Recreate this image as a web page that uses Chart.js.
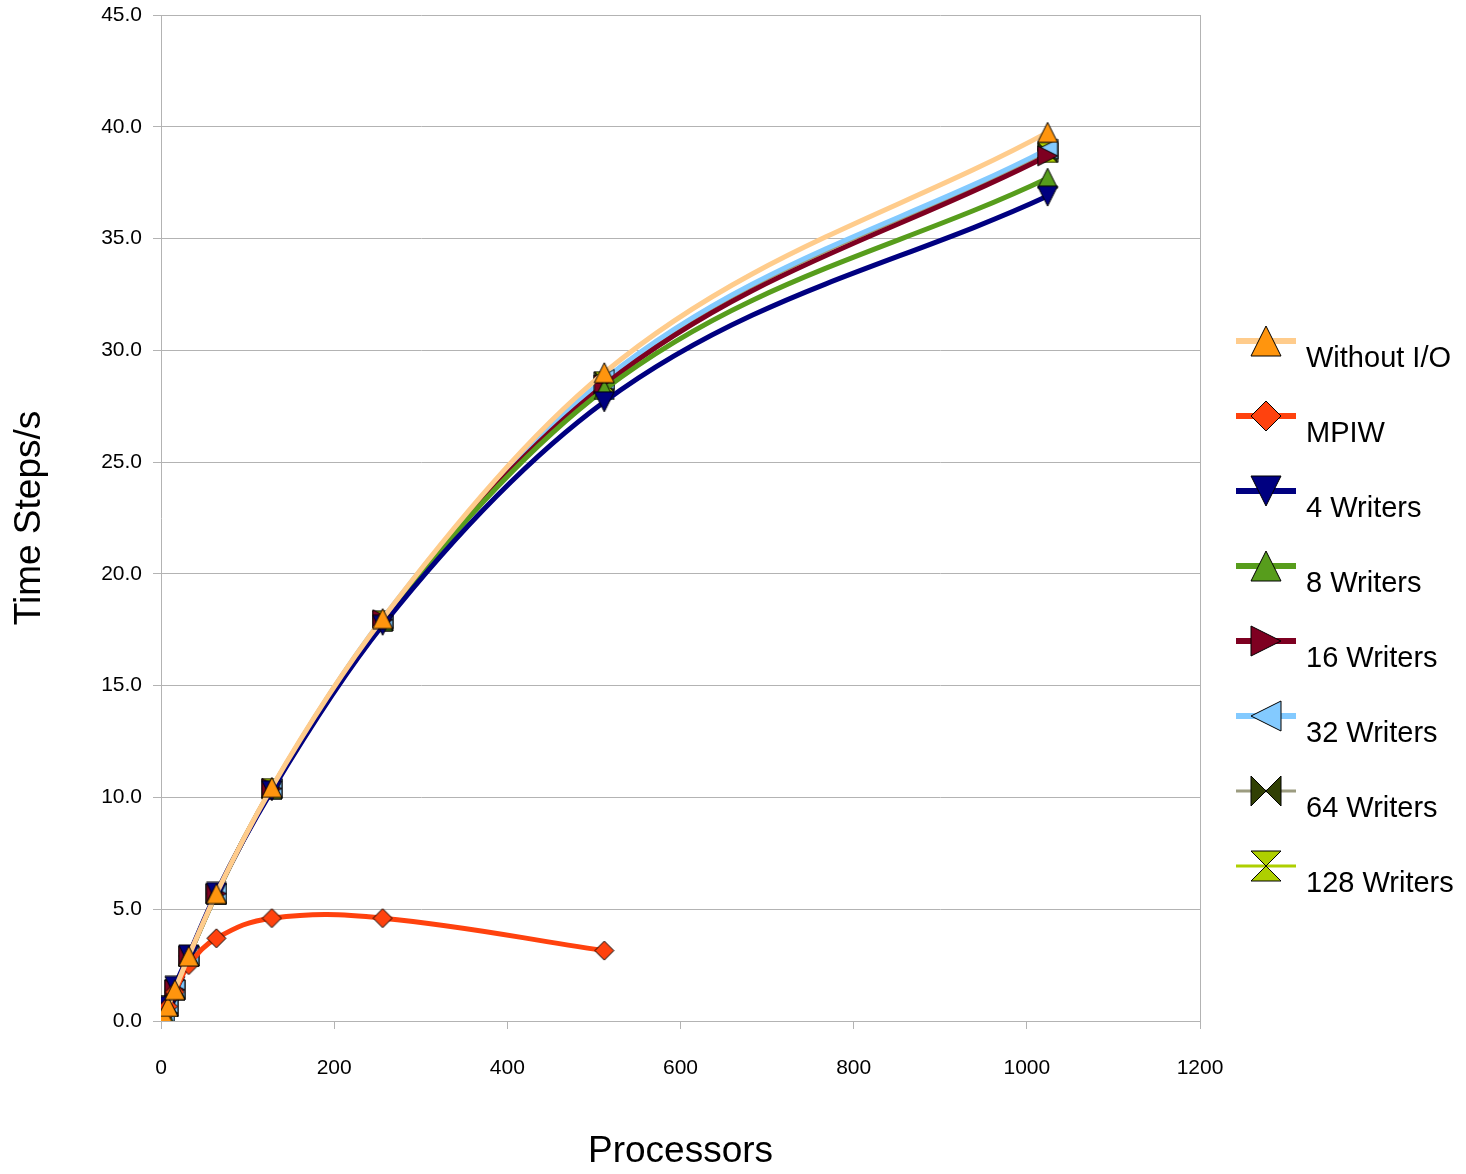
<!DOCTYPE html>
<html>
<head>
<meta charset="utf-8">
<title>Time Steps/s vs Processors</title>
<script src="https://cdn.jsdelivr.net/npm/chart.js@4.4.0/dist/chart.umd.min.js"></script>
<style>
  html, body { margin: 0; padding: 0; background: #fff; }
  #wrap { width: 1466px; height: 1174px; }
</style>
</head>
<body>
<div id="wrap"><canvas id="chart" width="1466" height="1174"></canvas></div>
<script>
// processors used in each run
const procs = [4, 8, 16, 32, 64, 128, 256, 512, 1024];

// time steps per second
const withoutIO  = [0.2, 0.65, 1.4, 2.9, 5.7, 10.45, 18.0, 29.0, 39.75];
const mpiw       = [0.3, 0.65, 1.3, 2.5, 3.7, 4.6, 4.6, 3.15];
const writers4   = [0.3, 0.65, 1.55, 2.95, 5.75, 10.3, 17.7, 27.7, 36.9];
const writers8   = [0.3, 0.65, 1.45, 2.9, 5.7, 10.4, 17.9, 28.25, 37.7];
const writers16  = [0.3, 0.35, 1.4, 2.9, 5.7, 10.4, 17.95, 28.45, 38.7];
const writers32  = [0.3, 0.65, 1.4, 2.9, 5.7, 10.4, 18.0, 28.7, 39.0];
const writers64  = [0.3, 0.65, 1.4, 2.9, 5.7, 10.4, 17.9, 28.6, 38.85];
const writers128 = [0.3, 0.65, 1.4, 2.9, 5.7, 10.4, 17.9, 28.6, 38.85];

const xTicks = [0, 200, 400, 600, 800, 1000, 1200];
const yMax = 45;

const FONT = "'Liberation Sans', Arial, sans-serif";

// little canvases used as point markers
function makeMarker(shape, s, fill) {
  const c = document.createElement('canvas');
  c.width = s + 2;
  c.height = s + 2;
  const g = c.getContext('2d');
  g.translate(1, 1);
  g.fillStyle = fill;
  g.strokeStyle = '#000';
  g.lineWidth = 1;
  g.lineJoin = 'miter';
  const h = s / 2;
  let polys;
  if (shape == 'up') polys = [[[0, s], [h, 0], [s, s]]];
  else if (shape == 'down') polys = [[[0, 0], [s, 0], [h, s]]];
  else if (shape == 'right') polys = [[[0, 0], [s, h], [0, s]]];
  else if (shape == 'left') polys = [[[s, 0], [0, h], [s, s]]];
  else if (shape == 'diamond') polys = [[[h, 0], [s, h], [h, s], [0, h]]];
  else if (shape == 'bowtie') polys = [[[0, 0], [h, h], [0, s]], [[s, 0], [h, h], [s, s]]];
  else polys = [[[0, 0], [s, 0], [h, h]], [[0, s], [s, s], [h, h]]];
  polys.forEach(p => {
    g.beginPath();
    g.moveTo(p[0][0], p[0][1]);
    for (let i = 1; i < p.length; i++) g.lineTo(p[i][0], p[i][1]);
    g.closePath();
    g.fill();
    g.stroke();
  });
  return c;
}

function toPoints(values) {
  return values.map((v, i) => ({ x: procs[i], y: v }));
}

const seriesInfo = [
  { label: 'Without I/O', data: withoutIO,  line: '#ffcc8c', fill: '#ff950e', shape: 'up',      width: 5 },
  { label: 'MPIW',        data: mpiw,       line: '#ff420e', fill: '#ff420e', shape: 'diamond', width: 5 },
  { label: '4 Writers',   data: writers4,   line: '#000080', fill: '#000080', shape: 'down',    width: 5 },
  { label: '8 Writers',   data: writers8,   line: '#579d1c', fill: '#579d1c', shape: 'up',      width: 5 },
  { label: '16 Writers',  data: writers16,  line: '#7e0021', fill: '#7e0021', shape: 'right',   width: 5 },
  { label: '32 Writers',  data: writers32,  line: '#83caff', fill: '#83caff', shape: 'left',    width: 5 },
  { label: '64 Writers',  data: writers64,  line: '#9c9c80', fill: '#314004', shape: 'bowtie',  width: 2 },
  { label: '128 Writers', data: writers128, line: '#aecf00', fill: '#aecf00', shape: 'hourglass', width: 2 }
];

const datasets = seriesInfo.map(s => ({
  label: s.label,
  data: toPoints(s.data),
  showLine: true,
  borderColor: s.line,
  borderWidth: s.width,
  backgroundColor: s.fill,
  // MPIW rises and falls, so it keeps the plain spline; the rest are monotone
  cubicInterpolationMode: s.label == 'MPIW' ? 'default' : 'monotone',
  tension: 0.4,
  pointStyle: makeMarker(s.shape, s.shape == 'diamond' ? 19 : 20, s.fill),
  pointRadius: 10,
  fill: false
}));

// legend on the right: line + marker + label
const sideLegend = {
  id: 'sideLegend',
  afterDraw(chart) {
    const ctx = chart.ctx;
    ctx.save();
    seriesInfo.forEach((s, i) => {
      const y = 341 + i * 75;
      ctx.strokeStyle = s.line;
      ctx.lineWidth = s.width + 1;
      ctx.beginPath();
      ctx.moveTo(1236, y);
      ctx.lineTo(1296, y);
      ctx.stroke();
      const m = makeMarker(s.shape, 30, s.fill);
      ctx.drawImage(m, 1266 - m.width / 2, y - m.height / 2);
      ctx.fillStyle = '#000';
      ctx.font = '29px ' + FONT;
      ctx.textBaseline = 'alphabetic';
      ctx.textAlign = 'left';
      ctx.fillText(s.label, 1306, y + 26);
    });
    ctx.restore();
  }
};

const gridGray = '#b3b3b3';

new Chart(document.getElementById('chart').getContext('2d'), {
  type: 'scatter',
  data: { datasets: datasets },
  options: {
    responsive: false,
    animation: false,
    layout: { padding: { top: 4, right: 266, left: 0, bottom: 0 } },
    plugins: {
      legend: { display: false },
      tooltip: { enabled: false }
    },
    scales: {
      x: {
        type: 'linear',
        min: 0,
        max: 1200,
        afterFit: scale => {
          scale.height = 153;
          scale.paddingLeft = 0;
          scale.paddingRight = 0;
        },
        afterBuildTicks: scale => { scale.ticks = xTicks.map(v => ({ value: v })); },
        grid: {
          color: c => (c.tick && c.tick.value == 1200) ? gridGray : 'rgba(0,0,0,0)',
          tickColor: gridGray,
          tickLength: 8
        },
        border: { color: gridGray },
        ticks: {
          color: '#000',
          font: { family: FONT, size: 21 },
          padding: 27,
          maxRotation: 0,
          callback: v => String(v)
        },
        title: {
          display: true,
          text: 'Processors',
          color: '#000',
          font: { family: FONT, size: 37 },
          padding: { top: 0, bottom: 0 }
        }
      },
      y: {
        min: 0,
        max: yMax,
        afterFit: scale => {
          scale.width = 161;
          scale.paddingTop = 0;
          scale.paddingBottom = 0;
        },
        grid: {
          color: gridGray,
          tickColor: gridGray,
          tickLength: 8
        },
        border: { color: gridGray },
        ticks: {
          stepSize: 5,
          color: '#000',
          font: { family: FONT, size: 21 },
          padding: 11,
          callback: v => v.toFixed(1)
        },
        title: {
          display: true,
          text: 'Time Steps/s',
          color: '#000',
          font: { family: FONT, size: 37 },
          padding: { top: 8, bottom: 0 }
        }
      }
    }
  },
  plugins: [sideLegend]
});
</script>
</body>
</html>
